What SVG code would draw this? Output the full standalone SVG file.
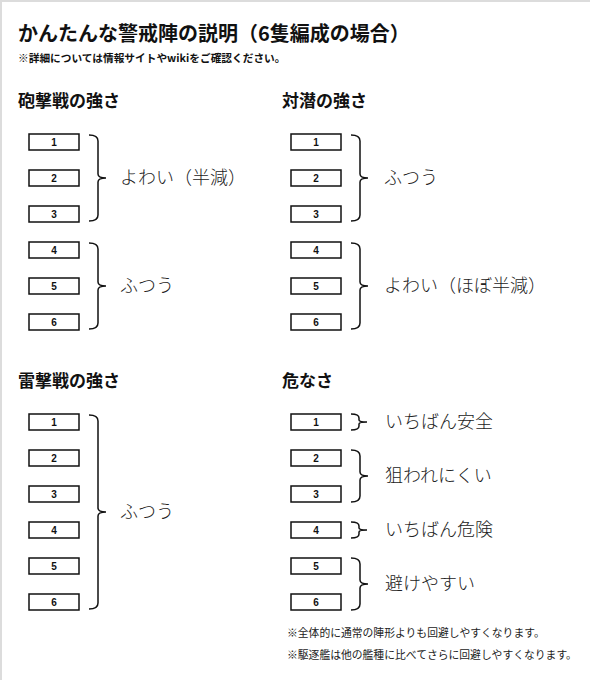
<svg xmlns="http://www.w3.org/2000/svg" width="590" height="680" viewBox="0 0 590 680">
<style>
text{font-family:"Noto Sans CJK JP","Noto Sans",sans-serif}
.title{font-size:20px;font-weight:700;fill:#111}
.sub{font-size:10.7px;font-weight:700;fill:#111}
.h{font-size:17px;font-weight:700;fill:#111}
.lbl{font-size:18px;font-weight:300;fill:#222}
.note{font-size:10.8px;font-weight:400;fill:#222}
.box rect{fill:#fff;stroke:#111;stroke-width:1.5}
.box text{font-family:"Liberation Sans",Arial,sans-serif;font-size:10px;font-weight:700;fill:#111;text-anchor:middle}
.br path{fill:none;stroke:#111;stroke-width:1.5}
</style>
<rect x="0" y="0" width="590" height="680" fill="#fff"/>
<path d="M0,1 H590 M1,0 V680" stroke="#dcdcdc" stroke-width="2" fill="none"/>
<text class="title" x="18" y="41">かんたんな警戒陣の説明（6隻編成の場合）</text>
<text class="sub" x="18" y="62">※詳細については情報サイトやwikiをご確認ください。</text>

<text class="h" x="18" y="107">砲撃戦の強さ</text>
<text class="h" x="282" y="107">対潜の強さ</text>
<text class="h" x="18" y="387">雷撃戦の強さ</text>
<text class="h" x="282" y="387">危なさ</text>

<g id="shelling">
<g id="s1" class="box"><rect x="29" y="134" width="50" height="16"/><text x="54" y="145.5">1</text></g>
<g id="s2" class="box"><rect x="29" y="170" width="50" height="16"/><text x="54" y="181.5">2</text></g>
<g id="s3" class="box"><rect x="29" y="206" width="50" height="16"/><text x="54" y="217.5">3</text></g>
<g id="s4" class="box"><rect x="29" y="242" width="50" height="16"/><text x="54" y="253.5">4</text></g>
<g id="s5" class="box"><rect x="29" y="278" width="50" height="16"/><text x="54" y="289.5">5</text></g>
<g id="s6" class="box"><rect x="29" y="314" width="50" height="16"/><text x="54" y="325.5">6</text></g>
<text class="lbl" x="120" y="184">よわい（半減）</text>
<text class="lbl" x="120" y="292">ふつう</text>
</g>

<g id="asw">
<g id="a1" class="box"><rect x="291" y="134" width="50" height="16"/><text x="316" y="145.5">1</text></g>
<g id="a2" class="box"><rect x="291" y="170" width="50" height="16"/><text x="316" y="181.5">2</text></g>
<g id="a3" class="box"><rect x="291" y="206" width="50" height="16"/><text x="316" y="217.5">3</text></g>
<g id="a4" class="box"><rect x="291" y="242" width="50" height="16"/><text x="316" y="253.5">4</text></g>
<g id="a5" class="box"><rect x="291" y="278" width="50" height="16"/><text x="316" y="289.5">5</text></g>
<g id="a6" class="box"><rect x="291" y="314" width="50" height="16"/><text x="316" y="325.5">6</text></g>
<text class="lbl" x="384" y="184">ふつう</text>
<text class="lbl" x="384" y="292">よわい（ほぼ半減）</text>
</g>

<g id="torpedo">
<g id="t1" class="box"><rect x="29" y="414" width="50" height="16"/><text x="54" y="425.5">1</text></g>
<g id="t2" class="box"><rect x="29" y="450" width="50" height="16"/><text x="54" y="461.5">2</text></g>
<g id="t3" class="box"><rect x="29" y="486" width="50" height="16"/><text x="54" y="497.5">3</text></g>
<g id="t4" class="box"><rect x="29" y="522" width="50" height="16"/><text x="54" y="533.5">4</text></g>
<g id="t5" class="box"><rect x="29" y="558" width="50" height="16"/><text x="54" y="569.5">5</text></g>
<g id="t6" class="box"><rect x="29" y="594" width="50" height="16"/><text x="54" y="605.5">6</text></g>
<text class="lbl" x="120" y="518">ふつう</text>
</g>

<g id="danger">
<g id="d1" class="box"><rect x="291" y="414" width="50" height="16"/><text x="316" y="425.5">1</text></g>
<g id="d2" class="box"><rect x="291" y="450" width="50" height="16"/><text x="316" y="461.5">2</text></g>
<g id="d3" class="box"><rect x="291" y="486" width="50" height="16"/><text x="316" y="497.5">3</text></g>
<g id="d4" class="box"><rect x="291" y="522" width="50" height="16"/><text x="316" y="533.5">4</text></g>
<g id="d5" class="box"><rect x="291" y="558" width="50" height="16"/><text x="316" y="569.5">5</text></g>
<g id="d6" class="box"><rect x="291" y="594" width="50" height="16"/><text x="316" y="605.5">6</text></g>
<text class="lbl" x="385" y="428">いちばん安全</text>
<text class="lbl" x="385" y="482">狙われにくい</text>
<text class="lbl" x="385" y="536">いちばん危険</text>
<text class="lbl" x="385" y="590">避けやすい</text>
</g>

<g id="connectors" class="br">
<path d="M89,135 Q98,135 98,141 V174 Q98,178 106,178 Q98,178 98,182 V215 Q98,221 89,221"/>
<path d="M89,243 Q98,243 98,249 V282 Q98,286 106,286 Q98,286 98,290 V323 Q98,329 89,329"/>
<path d="M89,415 Q98,415 98,421 V508 Q98,512 106,512 Q98,512 98,516 V603 Q98,609 89,609"/>
<path d="M351,135 Q360,135 360,141 V174 Q360,178 368,178 Q360,178 360,182 V215 Q360,221 351,221"/>
<path d="M351,243 Q360,243 360,249 V282 Q360,286 368,286 Q360,286 360,290 V323 Q360,329 351,329"/>
<path d="M351,414 Q359,414 359,418 V420 Q359,422 367,422 Q359,422 359,424 V426 Q359,430 351,430"/>
<path d="M351,450 Q360,450 360,456 V472 Q360,476 368,476 Q360,476 360,480 V496 Q360,502 351,502"/>
<path d="M351,522 Q359,522 359,526 V528 Q359,530 367,530 Q359,530 359,532 V534 Q359,538 351,538"/>
<path d="M351,558 Q360,558 360,564 V580 Q360,584 368,584 Q360,584 360,588 V604 Q360,610 351,610"/>
</g>

<text class="note" x="287" y="637">※全体的に通常の陣形よりも回避しやすくなります。</text>
<text class="note" x="287" y="659">※駆逐艦は他の艦種に比べてさらに回避しやすくなります。</text>
</svg>
